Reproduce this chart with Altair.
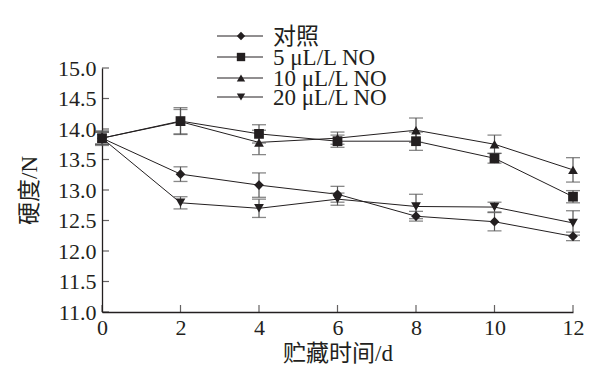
import altair as alt
import pandas as pd

days = [0, 2, 4, 6, 8, 10, 12]
series_names = ["对照", "5 μL/L NO", "10 μL/L NO", "20 μL/L NO"]
ctrl = [13.85, 13.26, 13.08, 12.93, 12.57, 12.48, 12.24]
ctrl_err = [0.12, 0.12, 0.2, 0.13, 0.08, 0.15, 0.07]
no5 = [13.85, 14.13, 13.92, 13.80, 13.80, 13.52, 12.89]
no5_err = [0.1, 0.22, 0.15, 0.1, 0.15, 0.08, 0.1]
no10 = [13.85, 14.12, 13.78, 13.85, 13.98, 13.75, 13.33]
no10_err = [0.1, 0.2, 0.2, 0.1, 0.2, 0.15, 0.2]
no20 = [13.85, 12.79, 12.70, 12.85, 12.73, 12.72, 12.46]
no20_err = [0.1, 0.1, 0.15, 0.1, 0.2, 0.08, 0.2]
shapes = ["diamond", "square", "triangle-up", "triangle-down"]
y_ticks = [11.0, 11.5, 12.0, 12.5, 13.0, 13.5, 14.0, 14.5, 15.0]
x_ticks = [0, 2, 4, 6, 8, 10, 12]

rows = []
for name, vals, errs in zip(series_names, [ctrl, no5, no10, no20], [ctrl_err, no5_err, no10_err, no20_err]):
    for d, v, e in zip(days, vals, errs):
        rows.append({"day": d, "series": name, "value": v, "lo": v - e, "hi": v + e})
df = pd.DataFrame(rows)

W, H = 471, 244
FONT = "Liberation Serif, Noto Sans CJK SC"
INK = "#231f20"

xs = alt.Scale(domain=[0, 12], nice=False)
ys = alt.Scale(domain=[11, 15], nice=False)
shape_scale = alt.Scale(domain=series_names, range=shapes)

xa = alt.Axis(values=x_ticks, title="贮藏时间/d", format="d", tickSize=0,
              labelPadding=5, titlePadding=4, domainColor=INK, domainWidth=1.3,
              grid=False, labelOverlap=False, labelFlush=False,
              labelFont=FONT, titleFont=FONT, labelFontSize=22, titleFontSize=23,
              labelColor=INK, titleColor=INK, titleFontWeight="normal")
ya = alt.Axis(values=y_ticks, title="硬度/N", format=".1f", tickSize=0,
              labelPadding=6, titlePadding=16, domainColor=INK, domainWidth=1.3,
              grid=False, labelOverlap=False, labelFlush=False,
              labelFont=FONT, titleFont=FONT, labelFontSize=22, titleFontSize=23,
              labelColor=INK, titleColor=INK, titleFontWeight="normal")

base = alt.Chart(df)

lines = base.mark_line(color=INK, strokeWidth=1).encode(
    x=alt.X("day:Q", scale=xs, axis=xa), y=alt.Y("value:Q", scale=ys, axis=ya), detail="series:N")

ERR = "#555555"
err_rules = base.mark_rule(color=ERR, strokeWidth=1.2).encode(
    x=alt.X("day:Q", scale=xs, axis=xa), y=alt.Y("lo:Q", scale=ys, axis=ya), y2="hi:Q")
cap_lo = base.mark_tick(color=ERR, orient="horizontal", size=14, thickness=1.3).encode(
    x=alt.X("day:Q", scale=xs, axis=xa), y=alt.Y("lo:Q", scale=ys, axis=ya))
cap_hi = base.mark_tick(color=ERR, orient="horizontal", size=14, thickness=1.3).encode(
    x=alt.X("day:Q", scale=xs, axis=xa), y=alt.Y("hi:Q", scale=ys, axis=ya))

points = base.mark_point(filled=True, color=INK, opacity=1, size=95).encode(
    x=alt.X("day:Q", scale=xs, axis=xa), y=alt.Y("value:Q", scale=ys, axis=ya),
    shape=alt.Shape("series:N", scale=shape_scale, legend=None))

# inward axis ticks
ytick_df = pd.DataFrame({"v": y_ticks})
ytick_marks = alt.Chart(ytick_df).mark_tick(color=INK, orient="horizontal", size=7, thickness=1.2).encode(
    y=alt.Y("v:Q", scale=ys, axis=ya), x=alt.value(3.5))
xtick_df = pd.DataFrame({"d": x_ticks})
xtick_marks = alt.Chart(xtick_df).mark_tick(color=INK, orient="vertical", size=7, thickness=1.2).encode(
    x=alt.X("d:Q", scale=xs, axis=xa), y=alt.value(H - 3.5))

# manual legend
leg_y = [-32, -11, 10, 29]
leg_df = pd.DataFrame({"series": series_names, "ly": leg_y})
leg_base = alt.Chart(leg_df)
leg_lines = leg_base.mark_rule(color=INK, strokeWidth=1).encode(
    x=alt.value(115), x2=alt.value(161), y=alt.Y("ly:Q", scale=None))
leg_pts = leg_base.mark_point(filled=True, color=INK, opacity=1, size=70).encode(
    x=alt.value(139), y=alt.Y("ly:Q", scale=None),
    shape=alt.Shape("series:N", scale=shape_scale, legend=None))
leg_txt = leg_base.mark_text(align="left", baseline="middle", font=FONT, fontSize=23,
                             color=INK, dy=1).encode(
    x=alt.value(171), y=alt.Y("ly:Q", scale=None), text="series:N")

chart = alt.layer(
    lines, err_rules, cap_lo, cap_hi, points, ytick_marks, xtick_marks,
    leg_lines, leg_pts, leg_txt
).properties(
    width=W, height=H,
    autosize=alt.AutoSizeParams(type="none"),
    padding={"left": 94, "top": 60, "right": 35, "bottom": 67},
    background="white",
).configure_view(stroke=None)

chart.save("out.html", embed_options={"renderer": "svg", "actions": False})
